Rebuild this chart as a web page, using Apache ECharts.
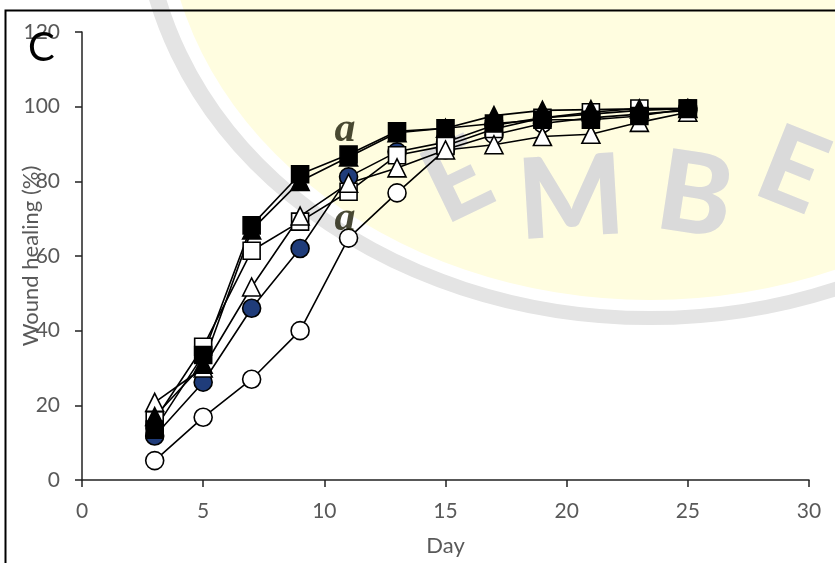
<!DOCTYPE html>
<html>
<head>
<meta charset="utf-8">
<script src="https://cdn.jsdelivr.net/npm/echarts@6/dist/echarts.min.js"></script>
<style>
html,body{margin:0;padding:0;background:#fff;}
#chart{width:835px;height:563px;}
</style>
</head>
<body>
<div id="chart"></div>
<script>
// ---- data ----
var days = [3, 5, 7, 9, 11, 13, 15, 17, 19, 21, 23, 25];
var openCircle     = [5.2, 16.8, 27, 40, 64.8, 76.9, 88.5, 92.5, 95.5, 97, 98, 99];
var blueCircle     = [11.8, 26.2, 46, 62, 81.2, 87.9, 90.5, 95, 97, 98, 99, 99.5];
var openSquare     = [16, 35.7, 61.4, 69.2, 77.2, 87, 89.5, 94, 97, 98.5, 99.5, 99.5];
var openTriangle   = [20.8, 30, 51.7, 70.7, 79.5, 83.6, 88.4, 89.8, 92, 92.6, 95.8, 98.5];
var filledTriangle = [17, 31, 67, 80, 86.5, 93, 94.2, 97.6, 99, 99.2, 99.4, 99.5];
var filledSquare   = [13.5, 33.5, 68.2, 81.9, 87.2, 93.4, 94.2, 95.5, 96.5, 96.5, 97.5, 99.5];
var xTicks = [0, 5, 10, 15, 20, 25, 30];
var yTicks = [0, 20, 40, 60, 80, 100, 120];
var annotDays = [10.85, 10.85];
var annotValues = [93.7, 69.9];
var annotText = ['a', 'a'];
var panelLabel = 'C';
var xTitle = 'Day';
var yTitle = 'Wound healing (%)';

function pairs(vals) {
  return days.map(function (d, i) { return [d, vals[i]]; });
}

var seriesDefs = [
  { name: 'open circle', values: openCircle, symbol: 'circle', size: 18, fill: '#ffffff' },
  { name: 'blue circle', values: blueCircle, symbol: 'circle', size: 18, fill: '#1f3c7a' },
  { name: 'open square', values: openSquare, symbol: 'rect', size: 17, fill: '#ffffff' },
  { name: 'open triangle', values: openTriangle, symbol: 'triangle', size: 18, fill: '#ffffff' },
  { name: 'filled triangle', values: filledTriangle, symbol: 'triangle', size: 18, fill: '#000000' },
  { name: 'filled square', values: filledSquare, symbol: 'rect', size: 17, fill: '#000000' }
];

var series = seriesDefs.map(function (s) {
  return {
    name: s.name,
    type: 'line',
    data: pairs(s.values),
    symbol: s.symbol,
    symbolSize: s.size,
    showAllSymbol: true,
    lineStyle: { color: '#000000', width: 1.6 },
    itemStyle: { color: s.fill, borderColor: '#000000', borderWidth: 1.6 },
    emphasis: { disabled: true },
    animation: false
  };
});

series.push({
  name: 'annotations',
  type: 'scatter',
  data: annotDays.map(function (d, i) { return [d, annotValues[i], annotText[i]]; }),
  symbolSize: 0,
  label: {
    show: true,
    position: 'inside',
    formatter: function (p) { return p.data[2]; },
    fontFamily: '"Liberation Serif", "DejaVu Serif", serif',
    fontStyle: 'italic',
    fontWeight: 'bold',
    fontSize: 42,
    color: '#1c1c05'
  },
  z: 5,
  animation: false
});

var labelFont = 'Lato, "Open Sans", sans-serif';
var wmFont = 'Lato, sans-serif';
var chart = echarts.init(document.getElementById('chart'), null, { renderer: 'canvas' });
chart.setOption({
  backgroundColor: '#ffffff',
  animation: false,
  grid: { left: 82, right: 26, top: 32, bottom: 83, containLabel: false, outerBoundsMode: 'none' },
  xAxis: {
    type: 'value', min: xTicks[0], max: xTicks[xTicks.length - 1], interval: 5,
    name: xTitle, nameLocation: 'middle', nameGap: 55, nameMoveOverlap: false,
    nameTextStyle: { fontFamily: labelFont, fontSize: 22, color: '#595959' },
    axisLine: { show: true, lineStyle: { color: '#222222', width: 1.5 } },
    axisTick: { show: true, length: 7, lineStyle: { color: '#222222', width: 1.5 } },
    axisLabel: { fontFamily: labelFont, fontSize: 21, color: '#595959', margin: 21 },
    splitLine: { show: false }
  },
  yAxis: {
    type: 'value', min: yTicks[0], max: yTicks[yTicks.length - 1], interval: 20,
    name: yTitle, nameLocation: 'middle', nameGap: 40, nameRotate: 90, nameMoveOverlap: false,
    nameTextStyle: { fontFamily: labelFont, fontSize: 22, color: '#595959' },
    axisLine: { show: true, lineStyle: { color: '#222222', width: 1.5 } },
    axisTick: { show: true, length: 7, lineStyle: { color: '#222222', width: 1.5 } },
    axisLabel: { fontFamily: labelFont, fontSize: 21, color: '#595959', margin: 22 },
    splitLine: { show: false }
  },
  graphic: [
    // watermark (background decoration)
    { type: 'circle', x: 650, y: -100, scaleX: 1.2125, scaleY: 1, z: -20, silent: true,
      shape: { cx: 0, cy: 0, r: 418 }, style: { fill: 'none', stroke: '#e4e4e4', lineWidth: 14 } },
    { type: 'circle', x: 650, y: -100, scaleX: 1.2125, scaleY: 1, z: -19, silent: true,
      shape: { cx: 0, cy: 0, r: 400 }, style: { fill: '#fffde0' } },
    { type: 'text', x: 458, y: 182, rotation: 0.45, z: -18, silent: true,
      style: { text: 'E', fontFamily: wmFont, fontWeight: 900, fontSize: 105, fill: '#dadada', align: 'center', verticalAlign: 'middle' } },
    { type: 'text', x: 571, y: 200, rotation: 0.06, z: -18, silent: true,
      style: { text: 'M', fontFamily: wmFont, fontWeight: 900, fontSize: 112, fill: '#dadada', align: 'center', verticalAlign: 'middle' } },
    { type: 'text', x: 695, y: 197, rotation: -0.15, z: -18, silent: true,
      style: { text: 'B', fontFamily: wmFont, fontWeight: 900, fontSize: 112, fill: '#dadada', align: 'center', verticalAlign: 'middle' } },
    { type: 'text', x: 792, y: 172, rotation: -0.38, z: -18, silent: true,
      style: { text: 'E', fontFamily: wmFont, fontWeight: 900, fontSize: 108, fill: '#dadada', align: 'center', verticalAlign: 'middle' } },
    // outer frame
    { type: 'rect', z: 10, silent: true, shape: { x: 5.5, y: 10.5, width: 2000, height: 2000 },
      style: { fill: 'none', stroke: '#000000', lineWidth: 2 } },
    // panel label
    { type: 'text', left: 28, top: 28, z: 10, silent: true,
      style: { text: panelLabel, fontFamily: labelFont, fontSize: 40, fill: '#000000' } }
  ],
  series: series
});
</script>
</body>
</html>
